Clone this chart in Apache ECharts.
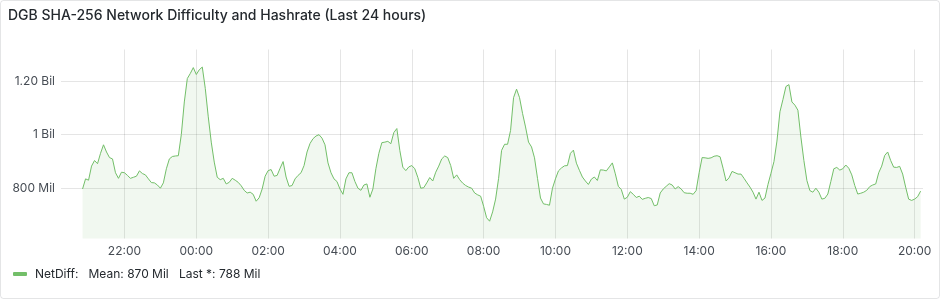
<!DOCTYPE html>
<html>
<head>
<meta charset="utf-8">
<script src="https://cdn.jsdelivr.net/npm/echarts@6/dist/echarts.min.js"></script>
<style>
html,body{margin:0;padding:0;background:#fff;}
#c{width:940px;height:300px;}
</style>
</head>
<body>
<div id="c"></div>
<script>
// Time in hours relative to 00:00 (22:00 = -2). Data every 5 minutes starting 20:50.
const startHour = -19 / 6;
const stepHours = 1 / 12;
// Network difficulty, millions
const netDiff = [
  796, 834, 829, 882, 903, 891, 930, 962, 935, 914, 909, 857, 836, 859, 857, 847,
  836, 840, 844, 864, 854, 849, 834, 820, 819, 811, 799, 819, 872, 909, 918, 920,
  921, 1001, 1123, 1211, 1230, 1252, 1226, 1244, 1254, 1174, 1067, 972, 897, 840, 831,
  836, 815, 821, 836, 829, 821, 808, 791, 781, 784, 776, 750, 763, 796, 844, 865,
  869, 844, 847, 874, 899, 841, 806, 809, 834, 847, 857, 884, 935, 967, 985, 995,
  1000, 987, 962, 894, 857, 834, 824, 796, 776, 834, 857, 857, 824, 799,
  791, 811, 815, 765, 796, 872, 930, 970, 972, 975, 966, 1008, 1023, 941, 878, 865,
  879, 884, 872, 840, 799, 801, 819, 839, 826, 859, 882, 909, 920, 914, 884, 836,
  849, 831, 818, 809, 803, 799, 781, 774, 769, 731, 688, 675, 710, 758,
  836, 941, 964, 964, 1016, 1139, 1171, 1139, 1080, 1029, 972, 954, 913, 836, 762, 740,
  738, 735, 799, 834, 864, 875, 883, 884, 930, 942, 893, 866, 841, 826, 813, 833,
  841, 828, 868, 867, 864, 879, 894, 853, 806, 794, 758, 765, 786, 776, 764, 769,
  757, 761, 764, 760, 733, 736, 781, 796, 806, 816, 811, 796, 805, 796, 782, 780,
  780, 776, 790, 857, 914, 913, 911, 913, 919, 921, 917, 874, 826, 838, 862, 857,
  852, 852, 836, 819, 803, 784, 758, 784, 753, 762, 813, 855, 899, 976,
  1086, 1132, 1181, 1188, 1123, 1111, 1092, 991, 903, 828, 790, 784, 799, 784, 758, 761,
  777, 824, 872, 877, 867, 872, 886, 874, 849, 809, 777, 780, 784, 791, 805, 811,
  815, 857, 882, 922, 935, 903, 878, 877, 881, 852, 803, 758, 753, 758, 767, 788
];
const xTicks = [-2, 0, 2, 4, 6, 8, 10, 12, 14, 16, 18, 20];
const yTicks = [800, 1000, 1200];
const yTickLabels = {800: '800 Mil', 1000: '1 Bil', 1200: '1.20 Bil'};
const seriesName = 'NetDiff';
const meanText = 'Mean: 870 Mil';
const lastText = 'Last *: 788 Mil';
const titleText = 'DGB SHA-256 Network Difficulty and Hashrate (Last 24 hours)';

const xMax = 20.233;
const xMin = xMax - 24;

const data = netDiff.map((v, i) => [startHour + i * stepHours, v]);

const chart = echarts.init(document.getElementById('c'), null, {renderer: 'canvas'});
const font = 'Inter';
const gridColor = 'rgba(0,0,0,0.1)';
chart.setOption({
  animation: false,
  backgroundColor: '#fff',
  textStyle: {fontFamily: font},
  graphic: [{
    type: 'rect',
    shape: {x: 0.5, y: 0.5, width: 939, height: 298, r: 3},
    style: {fill: 'none', stroke: 'rgba(36,41,46,0.12)', lineWidth: 1},
    silent: true, z: -1
  }],
  title: {
    text: titleText,
    left: 8, top: 9, padding: 0,
    textStyle: {fontFamily: font, fontSize: 14, fontWeight: 500, color: '#24292e'}
  },
  legend: {
    data: [seriesName],
    left: 13, top: 268, padding: 0,
    icon: 'roundRect',
    itemWidth: 14, itemHeight: 4,
    textStyle: {fontFamily: font, fontSize: 12, color: '#24292e', padding: [0, 0, 0, 3]},
    formatter: name => name + ':   ' + meanText + '   ' + lastText
  },
  grid: {left: 61, right: 17, top: 49.5, bottom: 61.5},
  xAxis: {
    type: 'value',
    min: xMin, max: xMax,
    axisLine: {show: false},
    axisTick: {show: false, customValues: xTicks},
    axisLabel: {
      customValues: xTicks,
      margin: 7,
      fontFamily: font, fontSize: 12, color: '#464c54',
      formatter: v => {
        const h = ((Math.round(v) % 24) + 24) % 24;
        return (h < 10 ? '0' : '') + h + ':00';
      }
    },
    splitLine: {show: true, lineStyle: {color: gridColor, width: 1}}
  },
  yAxis: {
    type: 'value',
    min: 610, max: 1320,
    axisLine: {show: false},
    axisTick: {show: false, customValues: yTicks},
    axisLabel: {
      customValues: yTicks,
      margin: 6,
      fontFamily: font, fontSize: 12, color: '#464c54',
      formatter: v => yTickLabels[v] || ''
    },
    splitLine: {show: true, lineStyle: {color: gridColor, width: 1}}
  },
  series: [{
    name: seriesName,
    type: 'line',
    data: data,
    showSymbol: false,
    color: '#73BF69',
    lineStyle: {width: 1, color: '#73BF69'},
    areaStyle: {color: '#73BF69', opacity: 0.1}
  }]
});
</script>
</body>
</html>
